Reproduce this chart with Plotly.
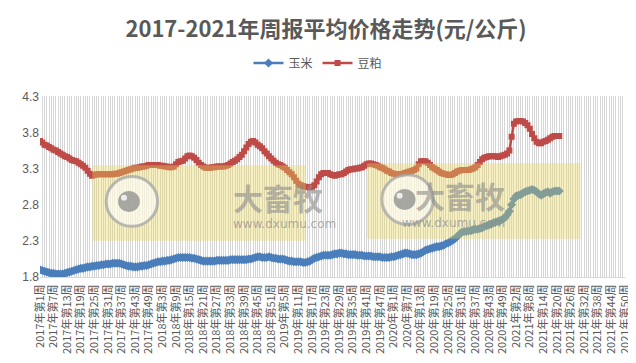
import plotly.graph_objects as go

# ---------------- data ----------------
years = [2017, 2018, 2019, 2020, 2021]
weeks_per_year = [52, 52, 52, 53, 50]
categories = [f"{y}年第{w}周" for y, n in zip(years, weeks_per_year) for w in range(1, n + 1)]
label_step = 6
tick_labels = [c if i % label_step == 0 else "" for i, c in enumerate(categories)]

corn = [
    # 2017
    1.90, 1.89, 1.88, 1.87, 1.86, 1.85, 1.85, 1.84, 1.84, 1.84, 1.84, 1.85, 1.86, 1.87, 1.88, 1.89,
    1.90, 1.91, 1.92, 1.92, 1.93, 1.94, 1.94, 1.95, 1.95, 1.96, 1.96, 1.97, 1.97, 1.98, 1.98, 1.98,
    1.99, 1.99, 1.99, 1.99, 1.98, 1.97, 1.96, 1.95, 1.95, 1.94, 1.94, 1.94, 1.95, 1.95, 1.96, 1.96,
    1.97, 1.98, 1.99, 2.00,
    # 2018
    2.01, 2.01, 2.02, 2.02, 2.03, 2.03, 2.04, 2.05, 2.06, 2.07, 2.07, 2.07, 2.07, 2.07, 2.07, 2.06,
    2.06, 2.05, 2.04, 2.03, 2.02, 2.02, 2.02, 2.02, 2.02, 2.02, 2.03, 2.03, 2.03, 2.03, 2.03, 2.03,
    2.04, 2.04, 2.04, 2.04, 2.04, 2.04, 2.04, 2.04, 2.05, 2.05, 2.06, 2.07, 2.08, 2.08, 2.07, 2.07,
    2.07, 2.08, 2.07, 2.06,
    # 2019
    2.06, 2.05, 2.05, 2.05, 2.04, 2.03, 2.02, 2.02, 2.01, 2.01, 2.01, 2.01, 2.00, 2.00, 2.01, 2.02,
    2.04, 2.06, 2.07, 2.08, 2.09, 2.10, 2.10, 2.10, 2.10, 2.11, 2.12, 2.12, 2.13, 2.13, 2.12, 2.12,
    2.11, 2.11, 2.11, 2.11, 2.10, 2.10, 2.10, 2.09, 2.09, 2.09, 2.09, 2.08, 2.08, 2.08, 2.08, 2.07,
    2.07, 2.07, 2.07, 2.08,
    # 2020
    2.08, 2.09, 2.10, 2.11, 2.12, 2.13, 2.13, 2.12, 2.11, 2.11, 2.11, 2.12, 2.13, 2.15, 2.17, 2.18,
    2.19, 2.20, 2.21, 2.22, 2.22, 2.23, 2.24, 2.26, 2.27, 2.29, 2.31, 2.33, 2.36, 2.39, 2.42, 2.43,
    2.43, 2.44, 2.44, 2.45, 2.46, 2.46, 2.47, 2.48, 2.50, 2.51, 2.52, 2.53, 2.55, 2.56, 2.57, 2.58,
    2.60, 2.62, 2.66, 2.71, 2.80,
    # 2021
    2.88, 2.92, 2.93, 2.94, 2.96, 2.98, 2.99, 3.00, 3.01, 3.00, 2.98, 2.95, 2.93, 2.95, 2.97, 2.98,
    2.96, 2.98, 2.99, 2.99, 2.99,
]

soymeal = [
    # 2017
    3.68, 3.66, 3.63, 3.62, 3.60, 3.58, 3.56, 3.55, 3.53, 3.51, 3.49, 3.47, 3.46, 3.44, 3.42, 3.41,
    3.40, 3.38, 3.36, 3.34, 3.31, 3.27, 3.23, 3.20, 3.21, 3.22, 3.22, 3.22, 3.22, 3.22, 3.22, 3.22,
    3.22, 3.23, 3.23, 3.24, 3.25, 3.26, 3.27, 3.28, 3.29, 3.30, 3.31, 3.31, 3.32, 3.33, 3.33, 3.34,
    3.35, 3.35, 3.35, 3.35,
    # 2018
    3.35, 3.34, 3.34, 3.33, 3.33, 3.32, 3.32, 3.33, 3.36, 3.39, 3.40, 3.41, 3.44, 3.47, 3.48, 3.47,
    3.45, 3.42, 3.38, 3.35, 3.33, 3.31, 3.31, 3.31, 3.32, 3.32, 3.33, 3.33, 3.33, 3.33, 3.34, 3.35,
    3.37, 3.39, 3.41, 3.43, 3.46, 3.49, 3.54, 3.59, 3.64, 3.67, 3.68, 3.66, 3.63, 3.61, 3.58, 3.54,
    3.51, 3.47, 3.44, 3.41,
    # 2019
    3.38, 3.36, 3.35, 3.33, 3.31, 3.28, 3.25, 3.22, 3.18, 3.13, 3.09, 3.07, 3.06, 3.05, 3.04, 3.04,
    3.05, 3.07, 3.12, 3.18, 3.22, 3.24, 3.24, 3.24, 3.22, 3.21, 3.20, 3.21, 3.22, 3.22, 3.24, 3.26,
    3.28, 3.29, 3.29, 3.30, 3.30, 3.31, 3.32, 3.34, 3.36, 3.37, 3.37, 3.36, 3.35, 3.34, 3.32, 3.31,
    3.29, 3.27, 3.26, 3.24,
    # 2020
    3.23, 3.22, 3.22, 3.22, 3.23, 3.24, 3.25, 3.26, 3.27, 3.28, 3.30, 3.36, 3.40, 3.40, 3.40, 3.38,
    3.35, 3.32, 3.30, 3.28, 3.26, 3.24, 3.23, 3.22, 3.21, 3.21, 3.22, 3.24, 3.26, 3.27, 3.28, 3.28,
    3.28, 3.28, 3.29, 3.30, 3.32, 3.35, 3.39, 3.43, 3.45, 3.46, 3.47, 3.47, 3.47, 3.47, 3.46, 3.47,
    3.48, 3.49, 3.51, 3.55, 3.74,
    # 2021
    3.92, 3.95, 3.96, 3.96, 3.95, 3.93, 3.90, 3.85, 3.78, 3.72, 3.67, 3.65, 3.65, 3.67, 3.68, 3.70,
    3.72, 3.74, 3.75, 3.75, 3.75,
]

y_ticks = [1.8, 2.3, 2.8, 3.3, 3.8, 4.3]
title_text = "2017-2021年周报平均价格走势(元/公斤)"

# ---------------- layout helpers ----------------
W, H = 636, 363
L, R, T, B = 32, 12, 80, 94
PX0, PX1, PY0, PY1 = L, W - R, T, H - B


def px(x):
    return (x - PX0) / (PX1 - PX0)


def py(y):
    return (PY1 - y) / (PY1 - PY0)


FONT = "Noto Sans CJK SC, Noto Sans, sans-serif"
GRAY = "#595959"

fig = go.Figure()
fig.add_trace(go.Scatter(
    x=categories[:len(corn)], y=corn, name="玉米", mode="lines+markers",
    line=dict(color="#4A7EBB", width=2.5),
    marker=dict(symbol="diamond", size=7, color="#4A7EBB"),
))
fig.add_trace(go.Scatter(
    x=categories[:len(soymeal)], y=soymeal, name="豆粕", mode="lines+markers",
    line=dict(color="#BE4B48", width=2.5),
    marker=dict(symbol="square", size=6, color="#BE4B48"),
))

shapes = []
annotations = []
# watermarks
for (rx0, rx1, ry0, ry1, cx, cy, tx, ty) in [
    (85, 301, 152, 231, 125, 190, 226, 185),
    (363, 579, 150, 229, 404, 188, 504, 183),
]:
    shapes.append(dict(type="rect", xref="paper", yref="paper", layer="above",
                       x0=px(rx0), x1=px(rx1), y0=py(ry1), y1=py(ry0),
                       fillcolor="rgb(232,214,90)", opacity=0.36, line=dict(width=0)))
    r = 26
    shapes.append(dict(type="circle", xref="paper", yref="paper", layer="above",
                       x0=px(cx - r), x1=px(cx + r), y0=py(cy + r), y1=py(cy - r),
                       fillcolor="rgba(255,255,255,0.6)", line=dict(color="rgba(160,160,160,0.7)", width=3)))
    r2 = 11
    shapes.append(dict(type="circle", xref="paper", yref="paper", layer="above",
                       x0=px(cx - 3 - r2), x1=px(cx - 3 + r2), y0=py(cy + r2), y1=py(cy - r2),
                       fillcolor="rgba(140,140,140,0.75)", line=dict(width=0)))
    r3 = 3
    shapes.append(dict(type="circle", xref="paper", yref="paper", layer="above",
                       x0=px(cx - 8 - r3), x1=px(cx - 8 + r3), y0=py(cy - 4 + r3), y1=py(cy - 4 - r3),
                       fillcolor="rgba(255,255,255,0.8)", line=dict(width=0)))
    annotations.append(dict(xref="paper", yref="paper", x=px(tx), y=py(ty), yanchor="middle",
                            text="<b>大畜牧</b>", showarrow=False, borderpad=0,
                            font=dict(family=FONT, size=30, color="rgba(140,140,140,0.6)")))
    annotations.append(dict(xref="paper", yref="paper", x=px(tx), y=py(ty + 29), yanchor="middle",
                            text="www.dxumu.com", showarrow=False, borderpad=0,
                            font=dict(family="DejaVu Sans, sans-serif", size=12,
                                      color="rgba(140,140,140,0.7)")))

fig.update_layout(
    width=W, height=H,
    margin=dict(l=L, r=R, t=T, b=B),
    paper_bgcolor="white", plot_bgcolor="white",
    font=dict(family=FONT, color=GRAY),
    title=dict(text=f"<b>{title_text}</b>", x=0.5, xanchor="center", xref="container",
               y=1 - 21 / H, yanchor="middle", yref="container",
               font=dict(family=FONT, size=22, color=GRAY)),
    legend=dict(orientation="h", x=310 / W, xanchor="center", xref="container",
                y=1 - 55 / H, yanchor="middle", yref="container",
                font=dict(family=FONT, size=12, color=GRAY), itemwidth=30,
                bgcolor="rgba(0,0,0,0)"),
    showlegend=True,
    shapes=shapes,
    annotations=annotations,
    xaxis=dict(
        type="category", categoryorder="array", categoryarray=categories,
        range=[0, len(categories) - 1],
        tickmode="array", tickvals=categories, ticktext=tick_labels,
        tickangle=-90, tickfont=dict(family=FONT, size=11, color=GRAY),
        showgrid=True, gridcolor="#D6D6D6", gridwidth=1,
        showline=True, linecolor="#D9D9D9", linewidth=1,
        ticks="", ticklabelstandoff=2, zeroline=False,
    ),
    yaxis=dict(
        range=[1.8, 4.3], tickmode="array", tickvals=y_ticks,
        ticktext=[f"{v:.1f}" for v in y_ticks],
        tickfont=dict(family="Liberation Sans, Arial, sans-serif", size=12, color=GRAY),
        showgrid=False, zeroline=False, showline=False, ticks="",
    ),
)

fig.write_html("out.html")
